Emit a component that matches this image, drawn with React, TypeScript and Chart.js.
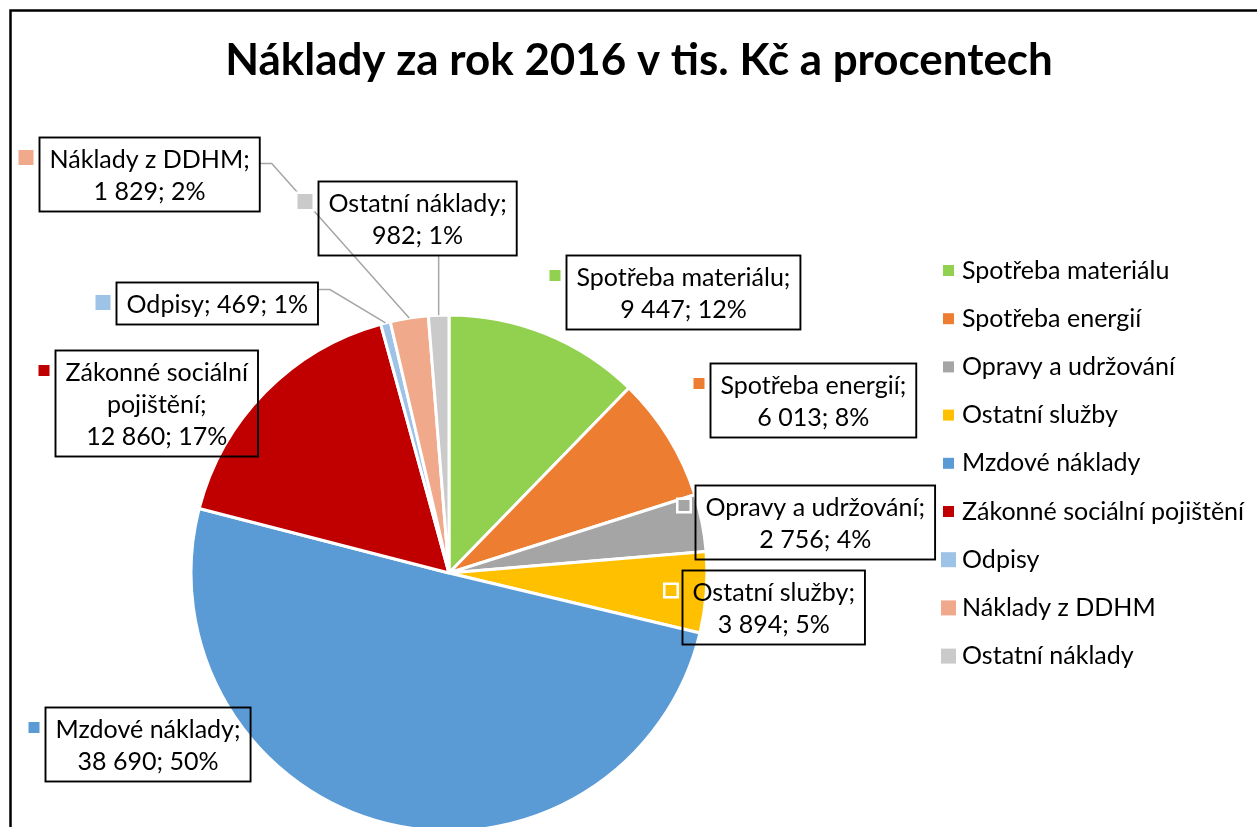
import React, { useEffect, useRef } from 'react';
import { Chart, registerables } from 'chart.js';

Chart.register(...registerables);

const TITLE = 'Náklady za rok 2016 v tis. Kč a procentech';
const CATEGORIES = [
  'Spotřeba materiálu',
  'Spotřeba energií',
  'Opravy a udržování',
  'Ostatní služby',
  'Mzdové náklady',
  'Zákonné sociální pojištění',
  'Odpisy',
  'Náklady z DDHM',
  'Ostatní náklady',
];
const VALUES = [9447, 6013, 2756, 3894, 38690, 12860, 469, 1829, 982];
const COLORS = ['#92D050', '#ED7D31', '#A5A5A5', '#FFC000', '#5B9BD5', '#C00000', '#9DC3E6', '#F1A98B', '#CACACA'];

// layout (styles), kept apart from the data
const LABEL_OFFSETS: [number, number][] = [
  [137, -42], [144, -37], [113, -1], [67, 14], [-239, -79], [-109, 11], [-169, -20], [-260, -144], [-22, -97],
];
const MARKER_SIZES = [11, 11, 11, 11, 11, 11, 15, 15, 15];
const LEADERS: ({ side: 'right'; dy: number } | { side: 'bottom' } | null)[] = [
  null, null, null, null, null, null, { side: 'right', dy: 7 }, { side: 'right', dy: 26 }, { side: 'bottom' },
];

const FAMILY = 'Lato, "Open Sans", sans-serif';

function fmt(v: number) {
  return String(v).replace(/\B(?=(\d{3})+(?!\d))/g, ' ');
}

function fitSize(ctx: CanvasRenderingContext2D, text: string, weight: string, target: number) {
  ctx.font = `${weight} 100px ${FAMILY}`;
  return (100 * target) / ctx.measureText(text).width;
}

function wrap(ctx: CanvasRenderingContext2D, text: string, maxW: number) {
  const words = text.split(' ');
  const lines: string[] = [];
  let cur = '';
  for (const w of words) {
    const t = cur ? cur + ' ' + w : w;
    if (ctx.measureText(t).width > maxW && cur) {
      lines.push(cur);
      cur = w;
    } else cur = t;
  }
  if (cur) lines.push(cur);
  return lines;
}

const decorPlugin = {
  id: 'decor',
  beforeDraw(chart: any) {
    const ctx = chart.ctx as CanvasRenderingContext2D;
    ctx.save();
    ctx.fillStyle = '#fff';
    ctx.fillRect(0, 0, chart.width, chart.height);
    ctx.restore();
  },
  afterDraw(chart: any) {
    const ctx = chart.ctx as CanvasRenderingContext2D;
    const meta = chart.getDatasetMeta(0);
    const total = VALUES.reduce((a, b) => a + b, 0);
    ctx.save();
    const labelSize = fitSize(ctx, 'Spotřeba materiálu;', '400', 214);
    const titleSize = fitSize(ctx, TITLE, '700', 828);

    // outer border
    ctx.strokeStyle = '#000';
    ctx.lineWidth = 2.5;
    ctx.beginPath();
    ctx.moveTo(10.5, chart.height + 5);
    ctx.lineTo(10.5, 10.5);
    ctx.lineTo(chart.width + 5, 10.5);
    ctx.stroke();

    // title
    ctx.fillStyle = '#000';
    ctx.font = `700 ${titleSize}px ${FAMILY}`;
    ctx.textAlign = 'center';
    ctx.textBaseline = 'alphabetic';
    ctx.fillText(TITLE, 639, 75);

    // legend
    ctx.font = `400 ${labelSize}px ${FAMILY}`;
    ctx.textAlign = 'left';
    CATEGORIES.forEach((name, i) => {
      const cy = 270.5 + 48.2 * i;
      const s = MARKER_SIZES[i];
      ctx.fillStyle = COLORS[i];
      ctx.fillRect(948.5 - s / 2, cy - s / 2, s, s);
      ctx.fillStyle = '#000';
      ctx.fillText(name, 962, cy + 8);
    });

    // data labels
    meta.data.forEach((arc: any, i: number) => {
      const p = arc.getProps(['x', 'y', 'startAngle', 'endAngle', 'outerRadius'], true);
      const mid = (p.startAngle + p.endAngle) / 2;
      const ax = p.x + Math.cos(mid) * p.outerRadius;
      const ay = p.y + Math.sin(mid) * p.outerRadius;
      const pct = Math.round((VALUES[i] / total) * 100) + '%';
      const tail = fmt(VALUES[i]) + '; ' + pct;
      const full = CATEGORIES[i] + '; ' + tail;
      ctx.font = `400 ${labelSize}px ${FAMILY}`;
      const maxW = 220;
      const lines = ctx.measureText(full).width <= maxW ? [full] : [...wrap(ctx, CATEGORIES[i] + ';', maxW), tail];
      const tw = Math.max(...lines.map((l) => ctx.measureText(l).width));
      const w = tw + 20;
      const h = lines.length * 32 + 10;
      const cx = ax + LABEL_OFFSETS[i][0];
      const cy = ay + LABEL_OFFSETS[i][1];
      const left = Math.round(cx - w / 2) + 0.5;
      const top = Math.round(cy - h / 2) + 0.5;

      const ld = LEADERS[i];
      if (ld) {
        ctx.strokeStyle = '#A6A6A6';
        ctx.lineWidth = 1.5;
        ctx.beginPath();
        if (ld.side === 'right') {
          ctx.moveTo(left + w, top + ld.dy);
          ctx.lineTo(left + w + 12, top + ld.dy);
        } else {
          ctx.moveTo(ax, top + h);
        }
        ctx.lineTo(ax, ay);
        ctx.stroke();
      }

      ctx.strokeStyle = '#000';
      ctx.lineWidth = 1.9;
      ctx.strokeRect(left, top, w, h);

      const s = MARKER_SIZES[i];
      const mx = left - 6 - s;
      const my = top + 20 - s / 2;
      ctx.strokeStyle = '#fff';
      ctx.lineWidth = 5;
      ctx.strokeRect(mx, my, s, s);
      ctx.fillStyle = COLORS[i];
      ctx.fillRect(mx, my, s, s);

      ctx.fillStyle = '#000';
      ctx.textAlign = 'center';
      lines.forEach((l, k) => ctx.fillText(l, left + w / 2, top + 30 + 32 * k));
    });
    ctx.restore();
  },
};

export default function App() {
  const ref = useRef<HTMLCanvasElement>(null);
  useEffect(() => {
    const chart = new Chart(ref.current!, {
      type: 'pie',
      data: {
        labels: CATEGORIES,
        datasets: [
          {
            data: VALUES,
            backgroundColor: COLORS,
            borderColor: '#ffffff',
            borderWidth: 3,
            radius: 258,
            clip: false,
          } as any,
        ],
      },
      options: {
        responsive: false,
        animation: false,
        events: [],
        layout: { padding: { left: 0, right: 359, top: 319, bottom: 0 } },
        plugins: {
          legend: { display: false },
          title: { display: false },
          tooltip: { enabled: false },
        },
      },
      plugins: [decorPlugin],
    });
    return () => chart.destroy();
  }, []);
  return (
    <div style={{ position: 'absolute', left: 0, top: 0, width: 1257, height: 827, background: '#fff' }}>
      <canvas ref={ref} width={1257} height={827} style={{ display: 'block', width: 1257, height: 827 }} />
    </div>
  );
}
